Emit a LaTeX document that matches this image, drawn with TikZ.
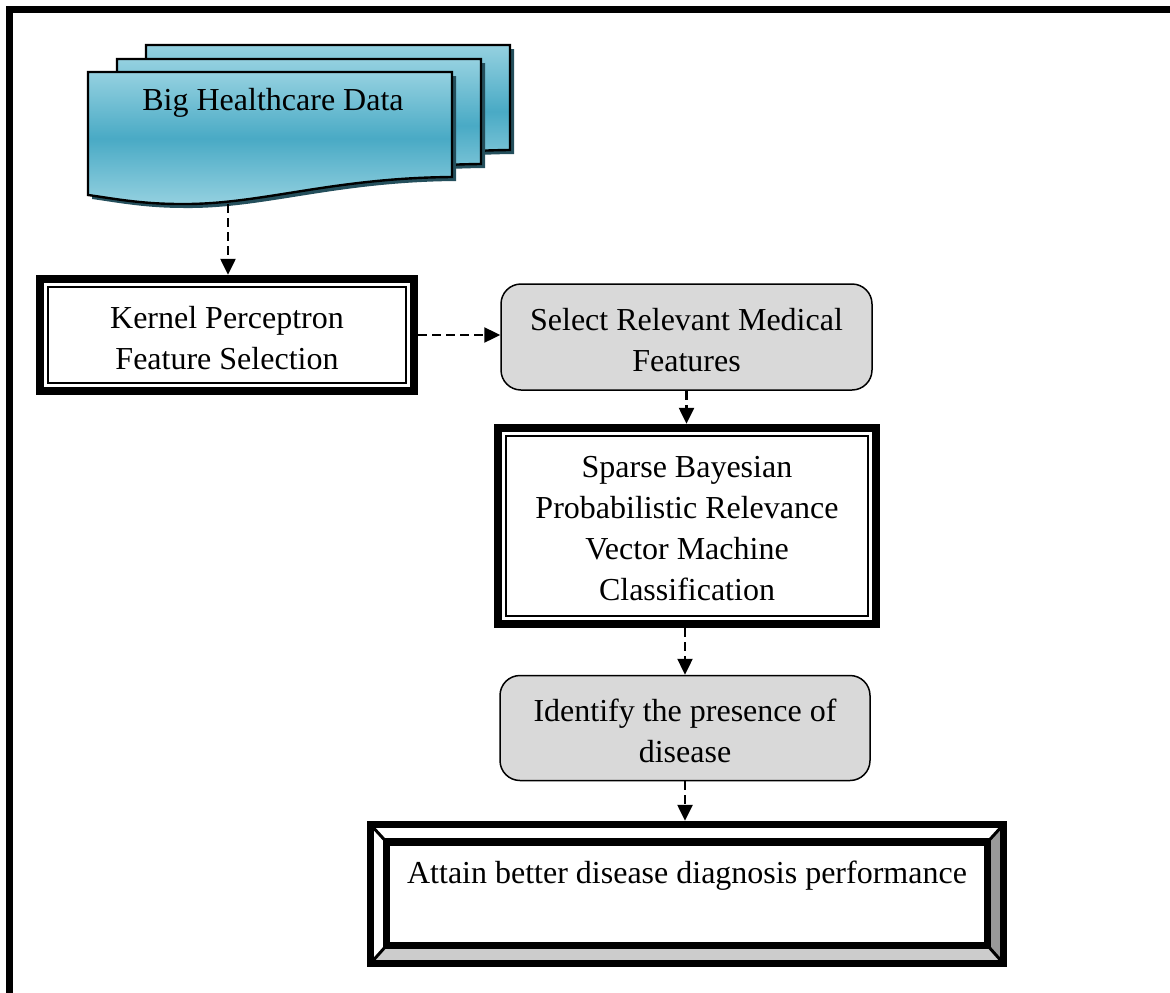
\documentclass[tikz,border=0pt]{standalone}
\usepackage{fontspec}
\setmainfont{Liberation Serif}
\usetikzlibrary{arrows.meta,calc}
\definecolor{docL}{HTML}{95D1E0}
\definecolor{docD}{HTML}{49AAC5}
\definecolor{docS}{HTML}{244F5C}
\definecolor{boxG}{HTML}{D9D9D9}
\definecolor{bevR}{HTML}{999999}
\definecolor{bevB}{HTML}{CCCCCC}
\newcommand\ttframe[1]{%
  \draw[line width=8pt] ($(#1.north west)+(4,4)$) rectangle ($(#1.south east)+(-4,-4)$);
  \draw[line width=2pt] ($(#1.north west)+(12,12)$) rectangle ($(#1.south east)+(-12,-12)$);
}
\begin{document}
\begin{tikzpicture}[x=1pt,y=-1pt,
  font=\fontsize{32}{41}\selectfont,
  plain/.style={inner sep=0pt, align=center},
  roundbox/.style={plain, draw, line width=1.5pt, fill=boxG, rounded corners=20pt},
  flow/.style={line width=2.4pt, dash pattern=on 9pt off 5pt, -{Triangle[length=16pt,width=15pt]}},
  docpic/.pic={
    \begin{scope}[shift={(4,4)}]
      \fill[docS] (88,72) -- (452,72) -- (452,177) .. controls (330,178) and (260,205) .. (180,204) .. controls (140,204) and (110,198) .. (88,195) -- cycle;
    \end{scope}
    \draw[line width=2.4pt, top color=docL, bottom color=docL, middle color=docD]
      (88,72) -- (452,72) -- (452,177) .. controls (330,178) and (260,205) .. (180,204) .. controls (140,204) and (110,198) .. (88,195) -- cycle;
  }]
\useasboundingbox (0,0) rectangle (1170,993);
% outer frame
\draw[line width=7pt] (9,9) rectangle (1190,1015);

% Big Healthcare Data stack
\pic at (58,-27) {docpic};
\pic at (29,-13) {docpic};
\pic at (0,0) {docpic};
\node[plain] (bhd) at (273,103) {Big Healthcare Data};
\coordinate (docbot) at (228,204);

% Kernel Perceptron
\node[plain, minimum width=382pt, minimum height=120pt] (kp) at (227,335) {};
\ttframe{kp}
\node[plain] (kptext) at ($(kp.center)+(0,3.5)$) {Kernel Perceptron\\Feature Selection};

% Select relevant
\node[roundbox, minimum width=371pt, minimum height=106pt] (sel) at (686.5,337) {};
\node[plain] (seltext) at ($(sel.center)+(0,3)$) {Select Relevant Medical\\Features};

% Sparse Bayesian
\node[plain, minimum width=386pt, minimum height=204pt] (sbr) at (687,526) {};
\ttframe{sbr}
\node[plain] (sbrtext) at ($(sbr.center)+(0,3)$) {Sparse Bayesian\\Probabilistic Relevance\\Vector Machine\\Classification};

% Identify
\node[roundbox, minimum width=370pt, minimum height=105pt] (idf) at (685,728) {};
\node[plain] (idftext) at ($(idf.center)+(0,3)$) {Identify the presence of\\disease};

% Attain (bevel)
\node[plain, minimum width=640pt, minimum height=146pt] (att) at (687,894) {};
\coordinate (onw) at ($(att.north west)+(3.5,3.5)$);
\coordinate (one) at ($(att.north east)+(-3.5,3.5)$);
\coordinate (ose) at ($(att.south east)+(-3.5,-3.5)$);
\coordinate (osw) at ($(att.south west)+(3.5,-3.5)$);
\coordinate (inw) at ($(att.north west)+(19.5,21)$);
\coordinate (ine) at ($(att.north east)+(-19.5,21)$);
\coordinate (ise) at ($(att.south east)+(-19.5,-21.5)$);
\coordinate (isw) at ($(att.south west)+(19.5,-21.5)$);
\fill[white] (onw) -- (one) -- (ose) -- (osw) -- cycle;
\fill[bevR] (one) -- (ose) -- (ise) -- (ine) -- cycle;
\fill[bevB] (ose) -- (osw) -- (isw) -- (ise) -- cycle;
\draw[line width=3pt] (onw) -- (inw) (one) -- (ine) (ose) -- (ise) (osw) -- (isw);
\draw[line width=7.5pt] (inw) rectangle (ise);
\draw[line width=6.5pt] (onw) rectangle (ose);
\node[plain] (atttext) at ($(att.center)+(0,5)$) {Attain better disease diagnosis performance\\\strut};

% connectors
\draw[flow] (docbot) -- (docbot |- kp.north);
\draw[flow] (kp.east) -- (kp.east -| sel.west);
\draw[flow] (sel.south) -- (sel.south |- sbr.north);
\draw[flow] (sbr.south -| idf.north) -- (idf.north);
\draw[flow] (idf.south) -- (idf.south |- att.north);
\end{tikzpicture}
\end{document}
